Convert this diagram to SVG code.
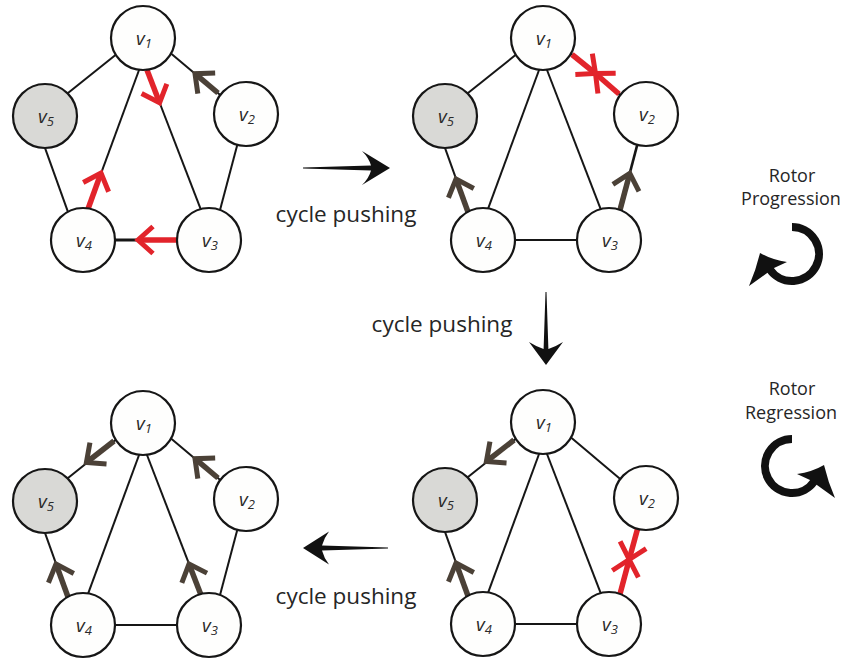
<svg xmlns="http://www.w3.org/2000/svg" width="843" height="661" viewBox="0 0 843 661">
<style>
.edge{stroke:#161616;stroke-width:2;fill:none}
.node{fill:#fefefd;stroke:#161616;stroke-width:2.2}
.sink{fill:#d9d9d6;stroke:#161616;stroke-width:2.2}
.lbl{font-family:"Open Sans","Liberation Sans",sans-serif;font-style:italic;font-size:19px;fill:#2a2a2a}
.sub{font-size:13px}
.red{stroke:#e2242b;stroke-width:5.5;fill:none;marker-end:url(#mr)}
.brn{stroke:#4b4137;stroke-width:5.5;fill:none;marker-end:url(#mb)}
.cap{font-family:"Open Sans","Liberation Sans",sans-serif;font-size:22.5px;fill:#262626;text-anchor:middle}
.rot{font-family:"Open Sans","Liberation Sans",sans-serif;font-size:18px;fill:#262626;text-anchor:middle}
.big{fill:#111}
.ring{fill:none;stroke:#111;stroke-width:8}
</style>
<defs>
<marker id="mr" markerUnits="userSpaceOnUse" viewBox="-25 -25 50 50" markerWidth="50" markerHeight="50" refX="0" refY="0" orient="auto">
<path d="M-15,-13.5 L0,0 L-15,13.5" fill="none" stroke="#e2242b" stroke-width="5"/>
</marker>
<marker id="mb" markerUnits="userSpaceOnUse" viewBox="-25 -25 50 50" markerWidth="50" markerHeight="50" refX="0" refY="0" orient="auto">
<path d="M-15,-13.5 L0,0 L-15,13.5" fill="none" stroke="#4b4137" stroke-width="5"/>
</marker>
</defs>

<!-- Graph 1 -->
<g id="graph1">
<g id="g1-connectors">
<line class="edge" x1="117.7" y1="53.3" x2="63.3" y2="96.8"/>
<line class="edge" x1="170.4" y1="53.1" x2="222.6" y2="96.9"/>
<line class="edge" x1="141.8" y1="62.5" x2="85.9" y2="214.6"/>
<line class="edge" x1="144.1" y1="62.5" x2="203.2" y2="215.6"/>
<line class="edge" x1="238.5" y1="140.2" x2="218.5" y2="215.8"/>
<line class="edge" x1="112" y1="240" x2="180" y2="240" style="stroke-width:2.8"/>
<line class="edge" x1="43" y1="142.4" x2="70" y2="217.6"/>
<line class="red" x1="88" y1="209" x2="101" y2="173"/>
<line class="red" x1="177" y1="240" x2="138" y2="240"/>
<line class="red" x1="147" y1="70" x2="159.6" y2="102.7"/>
<line class="brn" x1="218" y1="93" x2="195" y2="73.7"/>
</g>
<g id="g1-v1"><circle class="node" cx="143" cy="38" r="32"/><text class="lbl" x="144" y="45" text-anchor="middle">v<tspan class="sub" dy="3">1</tspan></text></g>
<g id="g1-v2"><circle class="node" cx="246" cy="114" r="32"/><text class="lbl" x="247" y="121" text-anchor="middle">v<tspan class="sub" dy="3">2</tspan></text></g>
<g id="g1-v3"><circle class="node" cx="209" cy="240" r="32"/><text class="lbl" x="210" y="247" text-anchor="middle">v<tspan class="sub" dy="3">3</tspan></text></g>
<g id="g1-v4"><circle class="node" cx="83" cy="240" r="32"/><text class="lbl" x="84" y="247" text-anchor="middle">v<tspan class="sub" dy="3">4</tspan></text></g>
<g id="g1-v5"><circle class="sink" cx="45" cy="116" r="32"/><text class="lbl" x="46" y="123" text-anchor="middle">v<tspan class="sub" dy="3">5</tspan></text></g>
</g>

<!-- Graph 2 -->
<g id="graph2" transform="translate(400,0)">
<g id="g2-connectors">
<line class="edge" x1="117.7" y1="53.3" x2="63.3" y2="96.8"/>
<line class="edge" x1="170.4" y1="53.1" x2="222.6" y2="96.9"/>
<line class="edge" x1="141.8" y1="62.5" x2="85.9" y2="214.6"/>
<line class="edge" x1="144.1" y1="62.5" x2="203.2" y2="215.6"/>
<line class="edge" x1="238.5" y1="140.2" x2="218.5" y2="215.8" style="stroke-width:2.6"/>
<line class="edge" x1="112" y1="240" x2="180" y2="240"/>
<line class="edge" x1="43" y1="142.4" x2="70" y2="217.6"/>
<line class="red" x1="172" y1="54.5" x2="195.5" y2="73.5"/>
<line class="red" x1="219" y1="94" x2="195.5" y2="73.5"/>
<line class="brn" x1="68" y1="212" x2="56" y2="179"/>
<line class="brn" x1="220" y1="210" x2="229.8" y2="173.3"/>
</g>
<g id="g2-v1"><circle class="node" cx="143" cy="38" r="32"/><text class="lbl" x="144" y="45" text-anchor="middle">v<tspan class="sub" dy="3">1</tspan></text></g>
<g id="g2-v2"><circle class="node" cx="246" cy="114" r="32"/><text class="lbl" x="247" y="121" text-anchor="middle">v<tspan class="sub" dy="3">2</tspan></text></g>
<g id="g2-v3"><circle class="node" cx="209" cy="240" r="32"/><text class="lbl" x="210" y="247" text-anchor="middle">v<tspan class="sub" dy="3">3</tspan></text></g>
<g id="g2-v4"><circle class="node" cx="83" cy="240" r="32"/><text class="lbl" x="84" y="247" text-anchor="middle">v<tspan class="sub" dy="3">4</tspan></text></g>
<g id="g2-v5"><circle class="sink" cx="45" cy="116" r="32"/><text class="lbl" x="46" y="123" text-anchor="middle">v<tspan class="sub" dy="3">5</tspan></text></g>
</g>

<!-- Graph 3 -->
<g id="graph3" transform="translate(0,385)">
<g id="g3-connectors">
<line class="edge" x1="117.7" y1="53.3" x2="63.3" y2="96.8"/>
<line class="edge" x1="170.4" y1="53.1" x2="222.6" y2="96.9"/>
<line class="edge" x1="141.8" y1="62.5" x2="85.9" y2="214.6"/>
<line class="edge" x1="144.1" y1="62.5" x2="203.2" y2="215.6"/>
<line class="edge" x1="238.5" y1="140.2" x2="218.5" y2="215.8"/>
<line class="edge" x1="112" y1="240" x2="180" y2="240"/>
<line class="edge" x1="43" y1="142.4" x2="70" y2="217.6"/>
<line class="brn" x1="114" y1="56" x2="86.4" y2="77.5"/>
<line class="brn" x1="218" y1="93" x2="195" y2="73.7"/>
<line class="brn" x1="68" y1="212" x2="56" y2="179"/>
<line class="brn" x1="201" y1="210" x2="189" y2="179"/>
</g>
<g id="g3-v1"><circle class="node" cx="143" cy="38" r="32"/><text class="lbl" x="144" y="45" text-anchor="middle">v<tspan class="sub" dy="3">1</tspan></text></g>
<g id="g3-v2"><circle class="node" cx="246" cy="114" r="32"/><text class="lbl" x="247" y="121" text-anchor="middle">v<tspan class="sub" dy="3">2</tspan></text></g>
<g id="g3-v3"><circle class="node" cx="209" cy="240" r="32"/><text class="lbl" x="210" y="247" text-anchor="middle">v<tspan class="sub" dy="3">3</tspan></text></g>
<g id="g3-v4"><circle class="node" cx="83" cy="240" r="32"/><text class="lbl" x="84" y="247" text-anchor="middle">v<tspan class="sub" dy="3">4</tspan></text></g>
<g id="g3-v5"><circle class="sink" cx="45" cy="116" r="32"/><text class="lbl" x="46" y="123" text-anchor="middle">v<tspan class="sub" dy="3">5</tspan></text></g>
</g>

<!-- Graph 4 -->
<g id="graph4" transform="translate(400,384)">
<g id="g4-connectors">
<line class="edge" x1="117.7" y1="53.3" x2="63.3" y2="96.8"/>
<line class="edge" x1="170.4" y1="53.1" x2="222.6" y2="96.9"/>
<line class="edge" x1="141.8" y1="62.5" x2="85.9" y2="214.6"/>
<line class="edge" x1="144.1" y1="62.5" x2="203.2" y2="215.6"/>
<line class="edge" x1="238.5" y1="140.2" x2="218.5" y2="215.8"/>
<line class="edge" x1="112" y1="240" x2="180" y2="240"/>
<line class="edge" x1="43" y1="142.4" x2="70" y2="217.6"/>
<line class="brn" x1="114" y1="56" x2="86.4" y2="77.5"/>
<line class="brn" x1="68" y1="212" x2="56" y2="179"/>
<line class="red" x1="237.5" y1="145" x2="229.2" y2="175.5"/>
<line class="red" x1="220" y1="210" x2="229.2" y2="175.5"/>
</g>
<g id="g4-v1"><circle class="node" cx="143" cy="38" r="32"/><text class="lbl" x="144" y="45" text-anchor="middle">v<tspan class="sub" dy="3">1</tspan></text></g>
<g id="g4-v2"><circle class="node" cx="246" cy="114" r="32"/><text class="lbl" x="247" y="121" text-anchor="middle">v<tspan class="sub" dy="3">2</tspan></text></g>
<g id="g4-v3"><circle class="node" cx="209" cy="240" r="32"/><text class="lbl" x="210" y="247" text-anchor="middle">v<tspan class="sub" dy="3">3</tspan></text></g>
<g id="g4-v4"><circle class="node" cx="83" cy="240" r="32"/><text class="lbl" x="84" y="247" text-anchor="middle">v<tspan class="sub" dy="3">4</tspan></text></g>
<g id="g4-v5"><circle class="sink" cx="45" cy="116" r="32"/><text class="lbl" x="46" y="123" text-anchor="middle">v<tspan class="sub" dy="3">5</tspan></text></g>
</g>

<!-- Transition arrows -->
<g id="transitions">
<path class="big" transform="translate(390,168)" d="M-87,-0.5 L-19,-2.4 Q-21,-10 -28,-17 L0,0 L-28,17 Q-21,10 -19,2.4 L-87,0.5 Z"/>
<path class="big" transform="translate(546,365) rotate(90)" d="M-73,-0.5 L-16,-2.4 Q-18,-9 -23,-17 L0,0 L-23,17 Q-18,9 -16,2.4 L-73,0.5 Z"/>
<path class="big" transform="translate(303,548) rotate(180)" d="M-85,-0.5 L-19,-2.4 Q-21,-10 -26,-16.5 L0,0 L-26,16.5 Q-21,10 -19,2.4 L-85,0.5 Z"/>
<text class="cap" x="346" y="222">cycle pushing</text>
<text class="cap" x="442" y="332">cycle pushing</text>
<text class="cap" x="346" y="604">cycle pushing</text>
</g>

<!-- Legend -->
<g id="legend-progression">
<text class="rot" x="792" y="182">Rotor</text>
<text class="rot" x="791" y="205">Progression</text>
<path class="ring" d="M792,227 A27,27 0 1 1 769.9,269.5"/>
<path class="big" d="M760,253 Q772,260 787,262 L774,268 L749,286 Q756,270 760,253 Z"/>
</g>
<g id="legend-regression">
<text class="rot" x="792" y="395">Rotor</text>
<text class="rot" x="791" y="419">Regression</text>
<g transform="matrix(-1,0,0,1,1584,212)">
<path class="ring" d="M792,227 A27,27 0 1 1 769.9,269.5"/>
<path class="big" d="M760,253 Q772,260 787,262 L774,268 L749,286 Q756,270 760,253 Z"/>
</g>
</g>
</svg>
